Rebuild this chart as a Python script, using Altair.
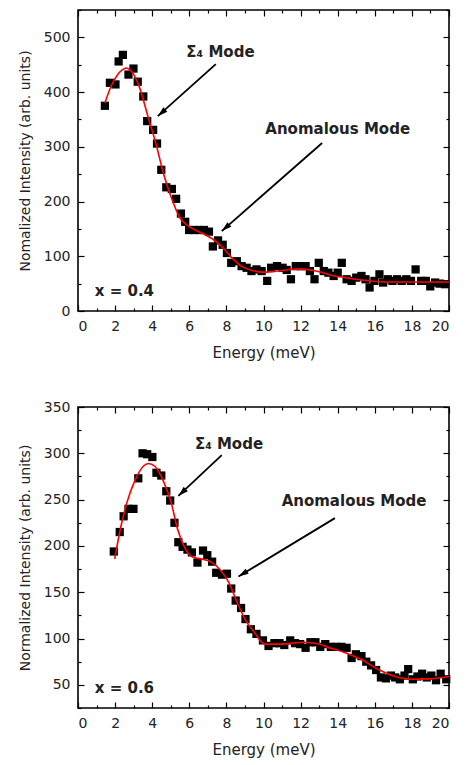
import math
import altair as alt
import pandas as pd

FONT = "DejaVu Sans"
W, H = 371, 301

# ---------------- data: x = 0.4 ----------------
top_x = [1.45, 1.72, 2.02, 2.19, 2.42, 2.72, 2.99, 3.22, 3.52, 3.73,
         4.05, 4.26, 4.49, 4.76, 5.06, 5.29, 5.55, 5.78, 5.99, 6.26,
         6.53, 6.79, 7.06, 7.27, 7.55, 7.80, 8.03, 8.26, 8.56, 8.82,
         9.09, 9.35, 9.62, 9.90, 10.20, 10.41, 10.73, 11.03, 11.25, 11.48,
         11.74, 12.00, 12.27, 12.50, 12.75, 12.98, 13.25, 13.50, 13.78, 14.00,
         14.22, 14.48, 14.75, 15.00, 15.28, 15.50, 15.72, 15.98, 16.25, 16.45,
         16.70, 16.95, 17.20, 17.45, 17.70, 17.95, 18.20, 18.50, 18.75,
         18.99, 19.25, 19.50, 19.79]
top_y = [375, 417, 414, 456, 468, 432, 443, 419, 392, 347,
         331, 306, 258, 226, 223, 205, 178, 163, 148, 148,
         148, 148, 145, 118, 129, 121, 106, 88, 91, 82,
         79, 73, 76, 73, 55, 79, 82, 79, 75, 58,
         82, 82, 82, 73, 58, 88, 73, 70, 64, 70,
         88, 58, 55, 61, 64, 58, 43, 55, 67, 52,
         58, 55, 58, 55, 58, 55, 76, 55, 55,
         45, 52, 50, 49]
top_fit_x = [1.45, 1.8, 2.1, 2.4, 2.6, 2.9, 3.3, 3.8, 4.2, 4.6, 5.0, 5.5, 6.0, 6.7,
             7.2, 7.8, 8.3, 8.8, 9.4, 9.9, 10.5, 11.2, 12.0, 12.7, 13.3, 13.8,
             14.4, 14.9, 15.5, 16.1, 17.0, 18.0, 19.0, 20.0]
top_fit_y = [380, 412, 430, 441, 444, 437, 410, 352, 306, 252, 210, 170, 154, 142,
             133, 116, 97, 82, 74, 71, 72, 75, 77, 74, 69, 64,
             61, 58, 56, 54, 53, 53, 53, 53]

# ---------------- data: x = 0.6 ----------------
bot_x = [1.93, 2.25, 2.46, 2.72, 2.99, 3.25, 3.48, 3.73, 4.01, 4.23,
         4.49, 4.76, 4.97, 5.20, 5.41, 5.64, 5.90, 6.14, 6.44, 6.74,
         6.97, 7.23, 7.45, 7.76, 8.03, 8.26, 8.50, 8.79, 9.03, 9.32,
         9.62, 9.97, 10.27, 10.59, 10.86, 11.12, 11.44, 11.70, 11.98, 12.27,
         12.53, 12.80, 13.06, 13.33, 13.63, 13.91, 14.20, 14.48, 14.75, 14.98,
         15.28, 15.54, 15.80, 16.07, 16.33, 16.60, 16.87, 17.10, 17.35, 17.60,
         17.80, 18.05, 18.30, 18.55, 18.80, 19.05, 19.30, 19.55, 19.85]
bot_y = [194, 215, 232, 240, 240, 273, 300, 299, 296, 279,
         276, 259, 249, 225, 204, 199, 196, 193, 182, 195,
         190, 183, 171, 169, 170, 154, 141, 133, 121, 110,
         105, 98, 92, 95, 95, 93, 98, 95, 94, 90,
         96, 96, 91, 94, 91, 91, 91, 90, 79, 83,
         81, 75, 71, 66, 58, 57, 60, 58, 56, 60,
         67, 56, 59, 62, 58, 60, 55, 62, 56]
bot_fit_x = [1.98, 2.28, 2.64, 3.08, 3.52, 3.8, 4.14, 4.58, 5.02, 5.37, 5.73, 6.17,
             6.61, 7.14, 7.67, 8.12, 8.56, 9.0, 9.53, 10.06, 10.94, 12.19, 13.0,
             13.42, 14.48, 15.3, 16.25, 17.1, 18.0, 19.0, 20.0]
bot_fit_y = [186, 218, 247, 271, 286, 289, 286, 271, 247, 218, 199, 188,
             186, 183, 174, 161, 140, 121, 106, 94, 94, 96, 94,
             91, 84, 77, 66, 59, 56, 56.5, 59]

# ---------------- annotations ----------------
top_text = ["Σ₄ Mode", "Anomalous Mode", "x = 0.4"]
top_text_x = [7.68, 14.0, 2.5]
top_text_y = [474, 333, 36]
top_arrow_x = [7.43, 13.16]
top_arrow_y = [451, 307]
top_arrow_x2 = [4.30, 7.75]
top_arrow_y2 = [356, 146]

bot_text = ["Σ₄ Mode", "Anomalous Mode", "x = 0.6"]
bot_text_x = [8.14, 14.88, 2.5]
bot_text_y = [310, 249, 47]
bot_arrow_x = [7.75, 13.85]
bot_arrow_y = [298, 230]
bot_arrow_x2 = [5.41, 8.65]
bot_arrow_y2 = [254, 167]

x_major = [0, 2, 4, 6, 8, 10, 12, 14, 16, 18, 20]
x_minor = [1, 3, 5, 7, 9, 11, 13, 15, 17, 19]
top_y_major = [0, 100, 200, 300, 400, 500]
top_y_minor = [50, 150, 250, 350, 450, 550]
bot_y_major = [50, 100, 150, 200, 250, 300, 350]
bot_y_minor = [25, 75, 125, 175, 225, 275, 325]

ARROW = "M0,0L-0.65,2.2L0.65,2.2Z"


def tick_axis(orient, values, size):
    return alt.Axis(orient=orient, values=values, labels=False, domain=False,
                    grid=False, title=None, ticks=True,
                    tickSize=alt.ExprRef(expr=str(-size)), tickColor="black",
                    tickWidth=1.2)


def panel(px, py, fx, fy, ydom, ymaj, ymin, ytitle, tx, ty, tt,
          ax, ay, ax2, ay2):
    xs = alt.Scale(domain=[0, 20], nice=False, zero=False)
    ys = alt.Scale(domain=ydom, nice=False, zero=False)
    ppx = W / 20.0
    ppy = H / float(ydom[1] - ydom[0])
    angles = []
    for a, b, c, d in zip(ax, ay, ax2, ay2):
        dx = (c - a) * ppx
        dy = -(d - b) * ppy
        angles.append(math.degrees(math.atan2(dx, -dy)) % 360)

    pts = pd.DataFrame({"x": px, "y": py})
    fit = pd.DataFrame({"x": fx, "y": fy})
    arr = pd.DataFrame({"x": ax, "y": ay, "x2": ax2, "y2": ay2, "ang": angles})
    txt = pd.DataFrame({"x": tx, "y": ty, "t": tt})

    lab_x = alt.Axis(orient="bottom", values=x_major, ticks=False, domain=False,
                     grid=False, labelPadding=8, title="Energy (meV)",
                     titlePadding=12, labelFontSize=14, titleFontSize=15,
                     labelFont=FONT, titleFont=FONT, labelColor="#222",
                     titleColor="#222", titleFontWeight="normal", format="d")
    lab_y = alt.Axis(orient="left", values=ymaj, ticks=False, domain=False,
                     grid=False, labelPadding=8, title=ytitle,
                     titlePadding=11, labelFontSize=14, titleFontSize=14,
                     labelFont=FONT, titleFont=FONT, labelColor="#222",
                     titleColor="#222", titleFontWeight="normal", format="d")

    l1 = alt.Chart(pts).mark_square(size=68, color="black", opacity=1).encode(
        x=alt.X("x:Q", scale=xs, axis=lab_x),
        y=alt.Y("y:Q", scale=ys, axis=lab_y),
    )
    l2 = alt.Chart(fit).mark_line(color="#ff0000", strokeWidth=1.6,
                                  interpolate="monotone").encode(
        x=alt.X("x:Q", scale=xs, axis=tick_axis("bottom", x_major, 6)),
        y=alt.Y("y:Q", scale=ys, axis=tick_axis("left", ymaj, 6)),
        order="x:Q",
    )
    l3 = alt.Chart(arr).mark_rule(color="black", strokeWidth=1.8).encode(
        x=alt.X("x:Q", scale=xs, axis=tick_axis("bottom", x_minor, 3)),
        y=alt.Y("y:Q", scale=ys, axis=tick_axis("left", ymin, 3)),
        x2="x2:Q", y2="y2:Q",
    )
    l4 = alt.Chart(arr).mark_point(shape=ARROW, size=85, filled=True,
                                   color="black", opacity=1).encode(
        x=alt.X("x2:Q", scale=xs, axis=tick_axis("top", x_major, 6)),
        y=alt.Y("y2:Q", scale=ys, axis=tick_axis("right", ymaj, 6)),
        angle=alt.Angle("ang:Q", scale=None),
    )
    l5 = alt.Chart(txt).mark_text(font=FONT, fontSize=15, fontWeight="bold",
                                  color="#222", align="center",
                                  baseline="middle").encode(
        x=alt.X("x:Q", scale=xs, axis=tick_axis("top", x_minor, 3)),
        y=alt.Y("y:Q", scale=ys, axis=tick_axis("right", ymin, 3)),
        text="t:N",
    )
    return alt.layer(l1, l2, l3, l4, l5).resolve_axis(
        x="independent", y="independent"
    ).properties(width=W, height=H)


top = panel(top_x, top_y, top_fit_x, top_fit_y, [0, 550], top_y_major,
            top_y_minor, "Nomalized Intensity (arb. units)",
            top_text_x, top_text_y, top_text,
            top_arrow_x, top_arrow_y, top_arrow_x2, top_arrow_y2)
bot = panel(bot_x, bot_y, bot_fit_x, bot_fit_y, [25, 350], bot_y_major,
            bot_y_minor, "Normalized Intensity (arb. units)",
            bot_text_x, bot_text_y, bot_text,
            bot_arrow_x, bot_arrow_y, bot_arrow_x2, bot_arrow_y2)

chart = alt.vconcat(top, bot, spacing=38).properties(
    padding={"left": 9, "top": 0, "right": 0, "bottom": 0},
    background="white",
).configure_view(stroke="black", strokeWidth=1.6)

chart.save("out.html", embed_options={"renderer": "svg", "actions": False})
